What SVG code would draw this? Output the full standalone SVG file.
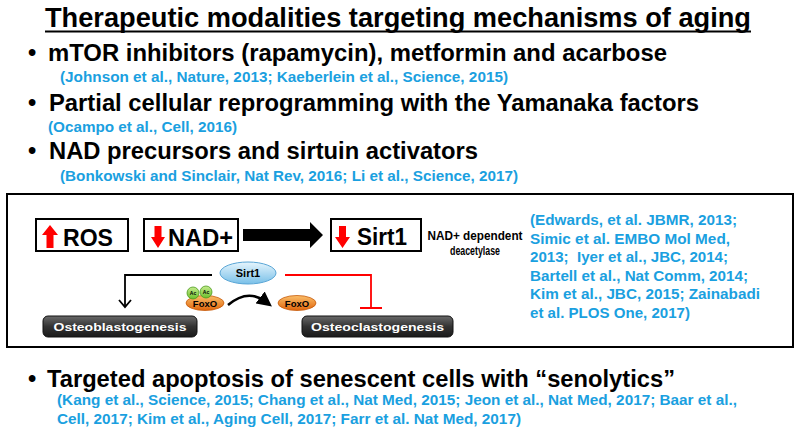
<svg xmlns="http://www.w3.org/2000/svg" width="800" height="430" viewBox="0 0 800 430">
<defs>
<style>
.t{font-family:"Liberation Sans",Arial,sans-serif;font-weight:bold;fill:#000}
.b{font-size:23.5px}
.c{font-family:"Liberation Sans",Arial,sans-serif;font-weight:bold;font-size:15.3px;fill:#1aa0e0;white-space:pre}
.box{fill:#fff;stroke:#000;stroke-width:2}
.dark{fill:url(#gDark);stroke:#111;stroke-width:1}
.wt{font-family:"Liberation Sans",Arial,sans-serif;font-weight:bold;font-size:11px;fill:#fff;text-anchor:middle}
.foxo{fill:url(#gOr);stroke:#c75a0a;stroke-width:0.8}
.ac{fill:url(#gGr);stroke:#4a9a1c;stroke-width:0.8}
</style>
<linearGradient id="gDark" x1="0" y1="0" x2="0" y2="1"><stop offset="0" stop-color="#6a6a6a"/><stop offset="0.5" stop-color="#333"/><stop offset="1" stop-color="#1a1a1a"/></linearGradient>
<linearGradient id="gBlue" x1="0" y1="0" x2="0" y2="1"><stop offset="0" stop-color="#e6f5fd"/><stop offset="1" stop-color="#79c0e8"/></linearGradient>
<linearGradient id="gOr" x1="0" y1="0" x2="0" y2="1"><stop offset="0" stop-color="#fbbf6a"/><stop offset="1" stop-color="#e0650c"/></linearGradient>
<linearGradient id="gGr" x1="0" y1="0" x2="0" y2="1"><stop offset="0" stop-color="#c6ec8e"/><stop offset="1" stop-color="#6cbf2c"/></linearGradient>
<marker id="curveHead" markerWidth="6" markerHeight="6" refX="3" refY="3" orient="auto" markerUnits="strokeWidth"><path d="M0,0 L6,3 L0,6 Z" fill="#000"/></marker>
</defs>

<g id="title">
<text class="t" x="45" y="27" font-size="27" textLength="706" lengthAdjust="spacingAndGlyphs">Therapeutic modalities targeting mechanisms of aging</text>
<line x1="45" y1="31.5" x2="751" y2="31.5" stroke="#000" stroke-width="2.2"/>
</g>

<g id="bullet1">
<text class="t b" x="28" y="61">•</text>
<text class="t b" x="48" y="61" textLength="619" lengthAdjust="spacingAndGlyphs">mTOR inhibitors (rapamycin), metformin and acarbose</text>
<text class="c" x="60" y="82" textLength="448" lengthAdjust="spacingAndGlyphs">(Johnson et al., Nature, 2013; Kaeberlein et al., Science, 2015)</text>
</g>

<g id="bullet2">
<text class="t b" x="28" y="111">•</text>
<text class="t b" x="49" y="111" textLength="650" lengthAdjust="spacingAndGlyphs">Partial cellular reprogramming with the Yamanaka factors</text>
<text class="c" x="48" y="132" textLength="189" lengthAdjust="spacingAndGlyphs">(Ocampo et al., Cell, 2016)</text>
</g>

<g id="bullet3">
<text class="t b" x="28" y="159">•</text>
<text class="t b" x="49" y="159" textLength="429" lengthAdjust="spacingAndGlyphs">NAD precursors and sirtuin activators</text>
<text class="c" x="60" y="181" textLength="458" lengthAdjust="spacingAndGlyphs">(Bonkowski and Sinclair, Nat Rev, 2016; Li et al., Science, 2017)</text>
</g>

<g id="panel">
<rect x="7" y="194" width="786" height="153" fill="#fff" stroke="#000" stroke-width="2"/>
</g>

<g id="ros">
<rect class="box" x="36" y="219" width="92" height="32"/>
<polygon points="50,225 58,235 53.5,235 53.5,248 46.5,248 46.5,235 42,235" fill="#f00"/>
<text class="t" x="63" y="246" font-size="23" textLength="50" lengthAdjust="spacingAndGlyphs">ROS</text>
</g>

<g id="nad">
<rect class="box" x="144" y="219" width="94" height="32"/>
<polygon points="154.5,226 161.5,226 161.5,237 165,237 158,248 151,237 154.5,237" fill="#f00"/>
<text class="t" x="168" y="246" font-size="23" textLength="65" lengthAdjust="spacingAndGlyphs">NAD+</text>
</g>

<g id="sirt1box">
<rect class="box" x="331" y="219" width="90" height="32"/>
<polygon points="339,226 346,226 346,237 350,237 342.5,248 335,237 339,237" fill="#f00"/>
<text class="t" x="357" y="245" font-size="23" textLength="50" lengthAdjust="spacingAndGlyphs">Sirt1</text>
</g>

<g id="deacetylase">
<text class="t" x="475" y="240" font-size="12" text-anchor="middle" textLength="95" lengthAdjust="spacingAndGlyphs">NAD+ dependent</text>
<text class="t" x="475" y="255" font-size="12" text-anchor="middle" textLength="50" lengthAdjust="spacingAndGlyphs">deacetylase</text>
</g>

<g id="refs">
<text class="c" x="530" y="225" textLength="207" lengthAdjust="spacingAndGlyphs">(Edwards, et al. JBMR, 2013;</text>
<text class="c" x="530" y="243.5" textLength="200" lengthAdjust="spacingAndGlyphs">Simic et al. EMBO Mol Med,</text>
<text class="c" x="530" y="262" textLength="198" lengthAdjust="spacingAndGlyphs" xml:space="preserve">2013;  Iyer et al., JBC, 2014;</text>
<text class="c" x="530" y="280.5" textLength="218" lengthAdjust="spacingAndGlyphs">Bartell et al., Nat Comm, 2014;</text>
<text class="c" x="530" y="299" textLength="230" lengthAdjust="spacingAndGlyphs">Kim et al., JBC, 2015; Zainabadi</text>
<text class="c" x="530" y="317.5" textLength="160" lengthAdjust="spacingAndGlyphs">et al. PLOS One, 2017)</text>
</g>

<g id="sirt1">
<ellipse cx="248" cy="273" rx="28" ry="11" fill="url(#gBlue)" stroke="#5aa6d6" stroke-width="1"/>
<text class="t" x="248" y="277" font-size="11" text-anchor="middle">Sirt1</text>
</g>

<g id="foxoAc">
<ellipse class="foxo" cx="205" cy="303" rx="19" ry="7.5"/>
<text class="t" x="205" y="306.5" font-size="9.5" text-anchor="middle">FoxO</text>
<circle class="ac" cx="193" cy="293" r="6"/>
<circle class="ac" cx="206" cy="292" r="6"/>
<text class="t" x="193" y="295" font-size="5" text-anchor="middle">Ac</text>
<text class="t" x="206" y="294" font-size="5" text-anchor="middle">Ac</text>
</g>

<g id="foxo">
<ellipse class="foxo" cx="297" cy="303" rx="19" ry="7.5"/>
<text class="t" x="297" y="306.5" font-size="9.5" text-anchor="middle">FoxO</text>
</g>

<g id="osteoblast">
<rect class="dark" x="43" y="316" width="154" height="21" rx="5"/>
<text class="wt" x="120" y="330.5" textLength="133" lengthAdjust="spacingAndGlyphs">Osteoblastogenesis</text>
</g>

<g id="osteoclast">
<rect class="dark" x="302" y="316" width="151" height="21" rx="5"/>
<text class="wt" x="377.5" y="330.5" textLength="133" lengthAdjust="spacingAndGlyphs">Osteoclastogenesis</text>
</g>

<g id="connectors">
<polygon points="243,229 310,229 310,222 323,235 310,248 310,241 243,241" fill="#000"/>
<polyline points="212,275 125,275 125,307" fill="none" stroke="#000" stroke-width="1.8"/>
<polyline points="119,300 125,307 131,300" fill="none" stroke="#000" stroke-width="1.8"/>
<polyline points="285,275 371,275 371,308" fill="none" stroke="#f00" stroke-width="1.8"/>
<line x1="360" y1="308" x2="382" y2="308" stroke="#f00" stroke-width="2"/>
<path d="M228,305 Q248,288 266,302" fill="none" stroke="#000" stroke-width="2.5" marker-end="url(#curveHead)"/>
</g>

<g id="bullet4">
<text class="t" x="28" y="387" font-size="23.5">•</text>
<text class="t" x="47" y="387" font-size="23.5" textLength="628" lengthAdjust="spacingAndGlyphs">Targeted apoptosis of senescent cells with “senolytics”</text>
<text class="c" x="57" y="405" textLength="680" lengthAdjust="spacingAndGlyphs">(Kang et al., Science, 2015; Chang et al., Nat Med, 2015; Jeon et al., Nat Med, 2017; Baar et al.,</text>
<text class="c" x="57" y="423.5" textLength="464" lengthAdjust="spacingAndGlyphs">Cell, 2017; Kim et al., Aging Cell, 2017; Farr et al. Nat Med, 2017)</text>
</g>
</svg>
